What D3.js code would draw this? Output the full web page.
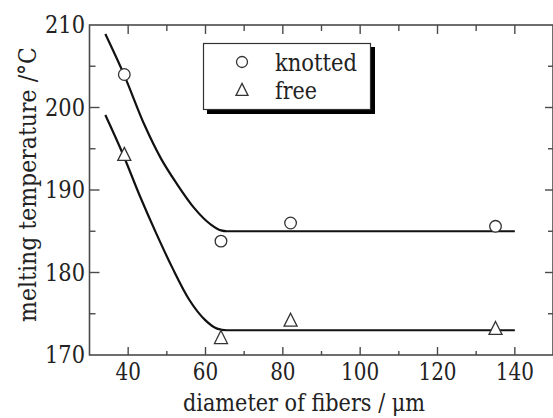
<!DOCTYPE html>
<html>
<head>
<meta charset="utf-8">
<script src="https://cdn.jsdelivr.net/npm/d3@7"></script>
<style>
html,body{margin:0;padding:0;background:#fff;}
</style>
</head>
<body>
<svg id="chart" width="553" height="418"></svg>
<script>
// measured points
const knottedX = [39, 64, 82, 135];
const knottedY = [204.0, 183.8, 186.0, 185.6];
const freeX = [39, 64, 82, 135];
const freeY = [194.3, 172.1, 174.2, 173.2];
// fitted guide curves
const knottedCurveX = [34.1, 39.0, 44.2, 48.5, 52.8, 57.1, 61.4, 64.0, 65.5, 140];
const knottedCurveY = [208.9, 203.9, 197.9, 193.8, 190.6, 187.8, 185.8, 185.1, 185.0, 185.0];
const freeCurveX = [34.1, 38.6, 43.0, 47.2, 51.5, 55.8, 60.0, 63.0, 65.5, 140];
const freeCurveY = [199.1, 194.4, 189.3, 184.8, 180.5, 176.7, 174.2, 173.2, 173.0, 173.0];
const xTicks = [40, 60, 80, 100, 120, 140];
const yTicks = [170, 180, 190, 200, 210];
const legendLabels = ["knotted", "free"];

const FONT = "'DejaVu Serif', 'Liberation Serif', serif";
const svg = d3.select("#chart");
const x = d3.scaleLinear().domain([30, 150]).range([89.5, 553.5]);
const y = d3.scaleLinear().domain([170, 210]).range([355, 25]);
const frameColor = "#4a4a4a";
const textColor = "#222";

// frame
svg.append("rect").attr("x", x(30)).attr("y", y(210))
  .attr("width", 553 - x(30)).attr("height", y(170) - y(210))
  .attr("fill", "none").attr("stroke", frameColor).attr("stroke-width", 1.6);

const minorX = d3.range(40, 150, 10);
const minorY = d3.range(170, 211, 5);
minorX.forEach(v => {
  const major = v % 20 === 0;
  svg.append("line").attr("x1", x(v)).attr("x2", x(v)).attr("y1", y(170)).attr("y2", y(170) - (major ? 8 : 4))
    .attr("stroke", frameColor).attr("stroke-width", 1.4);
  svg.append("line").attr("x1", x(v)).attr("x2", x(v)).attr("y1", y(210)).attr("y2", y(210) + (major ? 9 : 6))
    .attr("stroke", frameColor).attr("stroke-width", 1.4);
});
minorY.forEach(v => {
  if (v === 170 || v === 210) return;
  const major = v % 10 === 0;
  svg.append("line").attr("x1", x(30)).attr("x2", x(30) + (major ? 10 : 6)).attr("y1", y(v)).attr("y2", y(v))
    .attr("stroke", frameColor).attr("stroke-width", 1.4);
  svg.append("line").attr("x1", 553).attr("x2", 553 - (major ? 8 : 5)).attr("y1", y(v)).attr("y2", y(v))
    .attr("stroke", frameColor).attr("stroke-width", 1.4);
});

// tick labels
svg.selectAll(".xt").data(xTicks).enter().append("text")
  .attr("x", d => x(d)).attr("y", 380).attr("text-anchor", "middle")
  .attr("font-family", FONT).attr("fill", textColor)
  .attr("textLength", d => String(d).length * 12.7).attr("lengthAdjust", "spacingAndGlyphs")
  .attr("font-size", 24).text(d => d);
svg.selectAll(".yt").data(yTicks).enter().append("text")
  .attr("x", 85).attr("y", d => y(d) + 8).attr("text-anchor", "end")
  .attr("font-family", FONT).attr("fill", textColor)
  .attr("textLength", 40).attr("lengthAdjust", "spacingAndGlyphs")
  .attr("font-size", 24).text(d => d);

// axis titles
svg.append("text").attr("x", 304).attr("y", 411).attr("text-anchor", "middle")
  .attr("font-family", FONT).attr("fill", textColor)
  .attr("textLength", 242).attr("lengthAdjust", "spacingAndGlyphs")
  .attr("font-size", 24).text("diameter of fibers / μm");
svg.append("text").attr("transform", "translate(36,184.5) rotate(-90)")
  .attr("text-anchor", "middle").attr("font-family", FONT).attr("fill", textColor)
  .attr("textLength", 275).attr("lengthAdjust", "spacingAndGlyphs")
  .attr("font-size", 25).text("melting temperature /°C");

// curves
const line = d3.line().x(d => x(d[0])).y(d => y(d[1])).curve(d3.curveMonotoneX);
[[knottedCurveX, knottedCurveY], [freeCurveX, freeCurveY]].forEach(([cx, cy]) => {
  svg.append("path").datum(cx.map((v, i) => [v, cy[i]]))
    .attr("d", line).attr("fill", "none").attr("stroke", "#111").attr("stroke-width", 2.2);
});

// markers
const tri = (cx, cy, s) => `M${cx},${cy - s * 0.55}L${cx + s / 2},${cy + s * 0.45}L${cx - s / 2},${cy + s * 0.45}Z`;
svg.selectAll(".kn").data(knottedX.map((v, i) => [v, knottedY[i]])).enter().append("circle")
  .attr("cx", d => x(d[0])).attr("cy", d => y(d[1])).attr("r", 5.8)
  .attr("fill", "#fff").attr("stroke", "#333").attr("stroke-width", 1.3);
svg.selectAll(".fr").data(freeX.map((v, i) => [v, freeY[i]])).enter().append("path")
  .attr("d", d => tri(x(d[0]), y(d[1]), 13))
  .attr("fill", "#fff").attr("stroke", "#333").attr("stroke-width", 1.3);

// legend
const lg = svg.append("g");
lg.append("rect").attr("x", 207).attr("y", 47).attr("width", 168).attr("height", 67).attr("fill", "#000");
lg.append("rect").attr("x", 203.5).attr("y", 43.5).attr("width", 167).attr("height", 66)
  .attr("fill", "#fff").attr("stroke", "#333").attr("stroke-width", 1.2);
lg.append("circle").attr("cx", 242).attr("cy", 62).attr("r", 5.5)
  .attr("fill", "#fff").attr("stroke", "#333").attr("stroke-width", 1.3);
lg.append("path").attr("d", tri(242, 90, 12))
  .attr("fill", "#fff").attr("stroke", "#333").attr("stroke-width", 1.3);
lg.append("text").attr("x", 275).attr("y", 71).attr("font-size", 24)
  .attr("textLength", 82).attr("lengthAdjust", "spacingAndGlyphs")
  .attr("font-family", FONT).attr("fill", textColor).text(legendLabels[0]);
lg.append("text").attr("x", 275).attr("y", 99).attr("font-size", 24)
  .attr("textLength", 42).attr("lengthAdjust", "spacingAndGlyphs")
  .attr("font-family", FONT).attr("fill", textColor).text(legendLabels[1]);
</script>
</body>
</html>
